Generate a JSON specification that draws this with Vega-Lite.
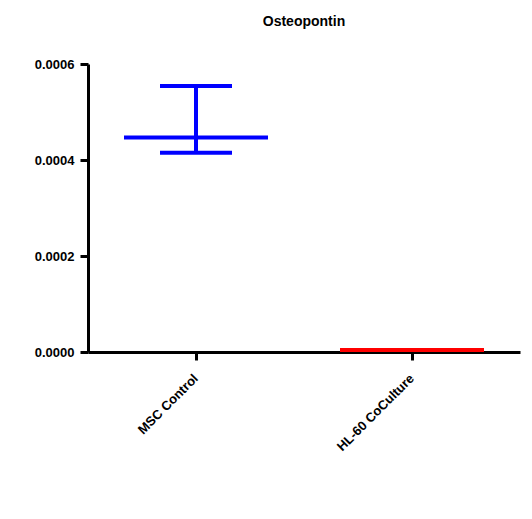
{
  "$schema": "https://vega.github.io/schema/vega-lite/v6.json",
  "width": 432,
  "height": 288,
  "autosize": {"type": "none"},
  "padding": {"left": 88, "top": 64, "right": 12, "bottom": 167},
  "background": "white",
  "title": {"text": "Osteopontin", "font": "Liberation Sans", "fontSize": 14, "fontWeight": "bold", "color": "black", "anchor": "middle", "offset": 29},
  "config": {"view": {"stroke": null}},
  "data": {"values": [
    {"group": "MSC Control", "mean": 0.000447, "lower": 0.000415, "upper": 0.000554},
    {"group": "HL-60 CoCulture", "mean": 0.000004, "lower": 0.000004, "upper": 0.000004}
  ]},
  "encoding": {
    "x": {"field": "group", "type": "nominal", "sort": null,
      "scale": {"type": "band", "domain": ["MSC Control", "HL-60 CoCulture"], "paddingInner": 0, "paddingOuter": 0},
      "axis": {"title": null, "labelAngle": -45, "labelAlign": "right", "labelBaseline": "middle", "labelFont": "Liberation Sans", "labelFontSize": 13, "labelFontWeight": "bold", "labelColor": "black", "labelPadding": 16,
        "domainColor": "black", "domainWidth": 3, "tickColor": "black", "tickWidth": 3, "tickSize": 8, "grid": false}},
    "color": {"field": "group", "type": "nominal", "scale": {"domain": ["MSC Control", "HL-60 CoCulture"], "range": ["#0000FF", "#FF0000"]}, "legend": null}
  },
  "layer": [
    {"mark": {"type": "rule", "strokeWidth": 4},
     "encoding": {"y": {"field": "lower", "type": "quantitative"}, "y2": {"field": "upper"}}},
    {"mark": {"type": "tick", "size": 72, "thickness": 4, "opacity": 1},
     "encoding": {"y": {"field": "lower", "type": "quantitative"}}},
    {"mark": {"type": "tick", "size": 72, "thickness": 4, "opacity": 1},
     "encoding": {"y": {"field": "upper", "type": "quantitative"}}},
    {"mark": {"type": "tick", "size": 144, "thickness": 4, "opacity": 1},
     "encoding": {"y": {"field": "mean", "type": "quantitative",
       "scale": {"domain": [0, 0.0006], "nice": false, "zero": true},
       "axis": {"title": null, "values": [0, 0.0002, 0.0004, 0.0006], "format": ".4f", "labelFont": "Liberation Sans", "labelFontSize": 13, "labelFontWeight": "bold", "labelColor": "black", "labelPadding": 6,
         "domainColor": "black", "domainWidth": 3, "tickColor": "black", "tickWidth": 3, "tickSize": 8, "grid": false}}}}
  ],
  "resolve": {"scale": {"y": "shared"}}
}
